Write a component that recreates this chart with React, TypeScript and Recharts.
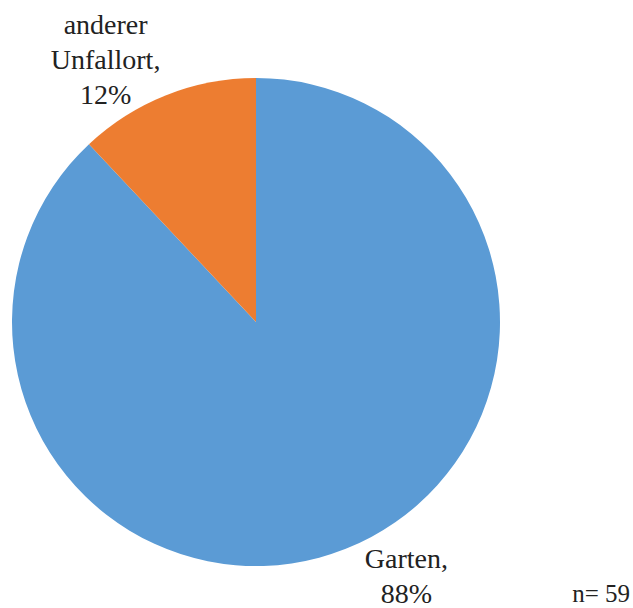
import React from "react";
import { PieChart, Pie, Cell } from "recharts";

const categories = ["Garten", "anderer Unfallort"];
const labelLines = [["Garten,", "88%"], ["anderer", "Unfallort,", "12%"]];
const values = [88, 12];
const colors = ["#5B9BD5", "#ED7D31"];
const sampleNote = "n= 59";

const data = categories.map((name, i) => ({ name, value: values[i] }));

const FONT = "'Liberation Serif', 'DejaVu Serif', serif";
const RAD = Math.PI / 180;

const renderLabel = (props: any) => {
  const { cx, cy, midAngle, outerRadius, index } = props;
  const ang = (midAngle + 8.6) * RAD;
  const r = outerRadius + 55;
  const x = cx + r * Math.cos(-ang);
  const y = cy + r * Math.sin(-ang);
  const lines = labelLines[index];
  const lh = 35;
  return (
    <text x={x} y={y} textAnchor="middle" fontFamily={FONT} fontSize={28} fill="#222">
      {lines.map((t, i) => (
        <tspan key={i} x={x} y={y + (i - (lines.length - 1) / 2) * lh + 5}>
          {t}
        </tspan>
      ))}
    </text>
  );
};

export default function App() {
  return (
    <div style={{ position: "absolute", left: 0, top: 0, width: 633, height: 608, background: "#fff" }}>
      <PieChart width={633} height={608} margin={{ top: 0, right: 0, bottom: 0, left: 0 }}>
        <Pie
          data={data}
          dataKey="value"
          nameKey="name"
          cx={256}
          cy={322}
          outerRadius={244}
          startAngle={90}
          endAngle={-270}
          stroke="none"
          label={renderLabel}
          labelLine={false}
          isAnimationActive={false}
        >
          {data.map((d, i) => (
            <Cell key={d.name} fill={colors[i]} />
          ))}
        </Pie>
        <text x={630} y={602} textAnchor="end" fontFamily={FONT} fontSize={25} fill="#222">
          {sampleNote}
        </text>
      </PieChart>
    </div>
  );
}
